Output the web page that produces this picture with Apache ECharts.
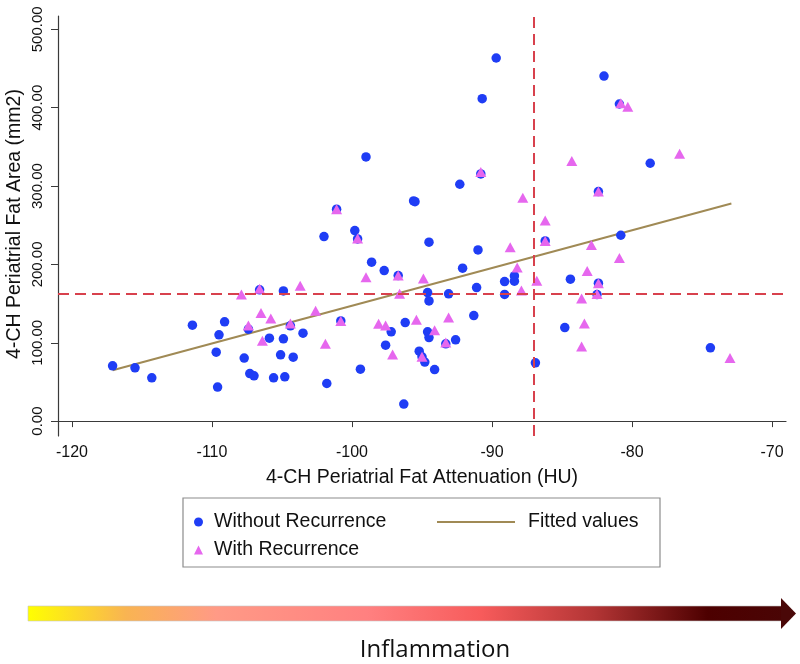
<!DOCTYPE html>
<html><head><meta charset="utf-8">
<script src="https://cdn.jsdelivr.net/npm/echarts@6/dist/echarts.min.js"></script>
<style>html,body{margin:0;padding:0;background:#fff}#c{width:800px;height:664px}</style>
</head><body><div id="c"></div>
<script>
// ---- data ----
const withoutRecurrence = [
 [-117.1,70.5],[-115.5,68.0],[-114.3,55.2],[-111.4,122.4],[-109.1,126.7],[-109.5,110.1],[-109.7,88.0],[-109.6,43.4],
 [-107.4,117.3],[-107.7,80.4],[-107.3,60.7],[-107.0,57.8],[-106.6,167.5],[-104.9,166.2],[-105.9,105.9],[-104.9,105.0],
 [-105.1,84.6],[-104.2,81.6],[-105.6,55.2],[-104.8,56.5],[-104.4,121.6],[-103.5,112.2],[-102.0,235.5],[-101.1,270.4],
 [-101.8,48.0],[-100.8,127.9],[-99.8,243.1],[-99.6,232.5],[-99.4,66.3],[-99.0,337.1],[-98.6,202.8],[-97.7,192.1],
 [-97.6,96.9],[-97.2,113.9],[-96.7,185.7],[-96.3,21.7],[-96.2,125.8],[-95.6,281.0],[-95.5,280.1],[-95.2,89.3],
 [-95.0,82.0],[-94.8,75.3],[-94.6,164.0],[-94.5,153.4],[-94.6,113.9],[-94.5,106.6],[-94.5,228.3],[-94.1,65.8],
 [-93.3,98.6],[-93.1,162.4],[-92.6,103.7],[-92.3,302.3],[-92.1,195.2],[-91.3,134.7],[-91.1,170.4],[-91.0,218.5],
 [-90.8,315.4],[-90.7,411.5],[-89.7,463.4],[-89.1,178.1],[-89.1,161.7],[-88.4,178.6],[-88.4,185.3],[-86.9,74.4],
 [-86.2,230.0],[-84.8,119.4],[-84.4,181.1],[-82.5,161.5],[-82.4,176.0],[-82.4,292.9],[-82.0,440.4],[-80.8,237.2],
 [-80.9,404.7],[-78.7,329.1],[-74.4,93.5]
];
const withRecurrence = [
 [-107.9,161.7],[-106.6,168.8],[-103.7,172.6],[-107.4,121.9],[-106.5,138.1],[-105.8,130.9],[-106.4,102.4],[-104.4,124.5],
 [-102.6,140.7],[-101.9,98.6],[-101.1,270.4],[-100.8,127.9],[-99.6,232.9],[-99.0,183.7],[-98.1,124.1],[-97.6,121.9],
 [-97.1,84.9],[-96.7,185.7],[-96.6,162.4],[-95.4,129.2],[-95.0,82.0],[-94.9,181.9],[-94.1,116.1],[-93.3,100.3],
 [-93.1,132.1],[-90.8,318.0],[-88.7,221.9],[-88.2,195.9],[-87.9,166.8],[-87.8,285.2],[-86.8,179.0],[-86.2,256.1],
 [-86.2,230.0],[-84.3,331.8],[-83.6,156.6],[-83.6,95.2],[-83.4,124.5],[-83.2,191.7],[-82.9,224.9],[-82.5,162.1],
 [-82.4,176.0],[-82.4,292.9],[-80.9,208.3],[-80.8,405.6],[-80.3,401.3],[-76.6,341.3],[-73.0,80.4]
];
const fittedX = [-117.1, -72.9];
const fittedY = [65.0, 277.6];
const cutoffX = -87;
const cutoffY = 162;
const xTicks = [-120, -110, -100, -90, -80, -70];
const yTicks = [0, 100, 200, 300, 400, 500];
const xTitle = '4-CH Periatrial Fat Attenuation (HU)';
const yTitle = '4-CH Periatrial Fat Area (mm2)';
const names = ['Without Recurrence', 'With Recurrence', 'Fitted values'];
const arrowLabel = 'Inflammation';

const FONT = '"Liberation Sans", Arial, Helvetica, sans-serif';
const chart = echarts.init(document.getElementById('c'), null, {renderer: 'canvas'});
const axisCol = '#3a3a3a';

chart.setOption({
  backgroundColor: '#ffffff',
  animation: false,
  grid: {left: 58, right: 14, top: 16, bottom: 228, containLabel: false},
  xAxis: {
    type: 'value', min: -121, max: -69,
    name: xTitle, nameLocation: 'middle', nameGap: 32,
    nameTextStyle: {fontFamily: FONT, fontSize: 19.5, color: '#111'},
    axisLine: {show: true, lineStyle: {color: axisCol, width: 1.2}},
    axisTick: {show: true, length: 6, lineStyle: {color: axisCol}, customValues: xTicks},
    axisLabel: {fontFamily: FONT, fontSize: 16, color: '#111', margin: 9, customValues: xTicks},
    splitLine: {show: false}
  },
  yAxis: {
    type: 'value', min: -19, max: 517,
    axisLine: {show: true, lineStyle: {color: axisCol, width: 1.2}},
    axisTick: {show: true, length: 7, lineStyle: {color: axisCol}, customValues: yTicks},
    axisLabel: {fontFamily: FONT, fontSize: 15, color: '#111', margin: 13, rotate: 90,
      customValues: yTicks, formatter: v => v.toFixed(2)},
    splitLine: {show: false}
  },
  legend: [
    {orient: 'vertical', left: 189, top: 507, itemWidth: 9, itemHeight: 9, itemGap: 8,
     textStyle: {fontFamily: FONT, fontSize: 19.5, color: '#111', padding: [0, 0, 0, 6]},
     data: [{name: names[0], icon: 'circle'}, {name: names[1], icon: 'triangle'}], selectedMode: false},
    {orient: 'vertical', left: 432, top: 507, itemWidth: 78, itemHeight: 2.2,
     textStyle: {fontFamily: FONT, fontSize: 19.5, color: '#111', padding: [0, 0, 0, 8]},
     data: [{name: names[2], icon: 'rect'}], selectedMode: false}
  ],
  graphic: [
    {type: 'rect', shape: {x: 183, y: 498, width: 477, height: 69},
     style: {fill: 'none', stroke: '#8c8c8c', lineWidth: 1.2}, silent: true},
    {type: 'text', x: 15, y: 224, rotation: Math.PI / 2,
     style: {text: yTitle, font: '19.5px ' + FONT, fill: '#111', align: 'center', verticalAlign: 'middle'}},
    {type: 'rect', shape: {x: 28, y: 606, width: 755, height: 15},
     style: {
       fill: new echarts.graphic.LinearGradient(0, 0, 1, 0, [
         {offset: 0, color: '#ffff00'}, {offset: 0.13, color: '#f9b452'},
         {offset: 0.25, color: '#ff9a86'}, {offset: 0.45, color: '#ff8080'},
         {offset: 0.6, color: '#f75b5b'}, {offset: 0.75, color: '#b33535'},
         {offset: 0.9, color: '#4d0000'}, {offset: 1, color: '#4a0505'}]),
       stroke: '#c8c8c8', lineWidth: 0.6}, silent: true},
    {type: 'polygon', shape: {points: [[781, 598], [796, 613.5], [781, 629]]},
     style: {fill: '#4a0808'}, silent: true},
    {type: 'text', x: 435, y: 650,
     style: {text: arrowLabel, font: '24px "Open Sans", sans-serif', fill: '#111', align: 'center', verticalAlign: 'middle'}}
  ],
  series: [
    {name: names[2], type: 'line', symbol: 'none', z: 2,
     data: fittedX.map((x, i) => [x, fittedY[i]]),
     lineStyle: {color: '#a08a55', width: 2},
     itemStyle: {color: '#a08a55'},
     markLine: {silent: true, symbol: 'none', label: {show: false},
       lineStyle: {color: '#d8414d', type: [11, 6], width: 2},
       data: [{xAxis: cutoffX}, {yAxis: cutoffY}]}},
    {name: names[0], type: 'scatter', symbol: 'circle', symbolSize: 9.5, z: 3,
     data: withoutRecurrence, itemStyle: {color: '#1f3df5', opacity: 1}},
    {name: names[1], type: 'scatter', symbol: 'triangle', symbolSize: [11, 10], z: 4,
     data: withRecurrence, itemStyle: {color: '#e667ee', opacity: 1}}
  ]
});
</script>
</body></html>
